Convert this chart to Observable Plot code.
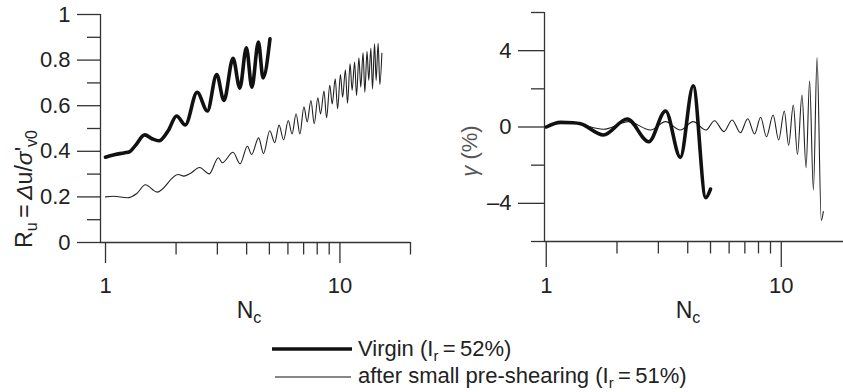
<!DOCTYPE html>
<html><head><meta charset="utf-8">
<script src="https://cdn.jsdelivr.net/npm/d3@7"></script>
<script src="https://cdn.jsdelivr.net/npm/@observablehq/plot@0.6"></script>
<style>
body{margin:0;background:#fff;overflow:hidden;}
#wrap{position:relative;width:843px;height:392px;}
#wrap svg{position:absolute;top:0;}
</style></head><body><div id="wrap"></div>
<script>
// ---------- data ----------
const ruVirginN = [1.00, 1.10, 1.20, 1.27, 1.34, 1.47, 1.58, 1.69, 1.85, 2.01, 2.19, 2.46, 2.72, 2.98, 3.20, 3.50, 3.74, 3.99, 4.21, 4.49, 4.70, 5.03];
const ruVirgin  = [0.374, 0.386, 0.393, 0.399, 0.425, 0.472, 0.455, 0.446, 0.490, 0.555, 0.516, 0.659, 0.577, 0.737, 0.623, 0.808, 0.677, 0.854, 0.681, 0.879, 0.722, 0.893];

const ruPreN = [1.00, 1.08, 1.24, 1.36, 1.48, 1.66, 2.04, 2.16, 2.30, 2.52, 2.77, 3.03, 3.15, 3.50, 3.75, 4.03, 4.20, 4.50, 4.72, 5.02, 5.27, 5.50, 5.75, 6.02, 6.25, 6.50, 6.75, 7.02, 7.25, 7.52, 7.77, 8.05, 8.27, 8.55, 8.77, 9.05, 9.27, 9.55, 9.77, 10.05, 10.27, 10.55, 10.77, 11.05, 11.27, 11.55, 11.77, 12.05, 12.27, 12.55, 12.77, 13.05, 13.27, 13.55, 13.77, 14.05, 14.27, 14.55, 14.80, 15.10];
const ruPre  = [0.200, 0.203, 0.196, 0.215, 0.253, 0.221, 0.298, 0.291, 0.303, 0.329, 0.301, 0.372, 0.350, 0.396, 0.345, 0.422, 0.386, 0.459, 0.390, 0.490, 0.438, 0.515, 0.450, 0.535, 0.476, 0.565, 0.476, 0.595, 0.529, 0.623, 0.521, 0.635, 0.564, 0.664, 0.547, 0.689, 0.608, 0.718, 0.586, 0.737, 0.637, 0.757, 0.611, 0.784, 0.667, 0.791, 0.645, 0.810, 0.681, 0.832, 0.659, 0.839, 0.711, 0.852, 0.674, 0.871, 0.711, 0.874, 0.693, 0.830];

const gammaVirginN = [1.00, 1.15, 1.30, 1.40, 1.75, 2.21, 2.73, 3.22, 3.72, 4.22, 4.77, 5.00];
const gammaVirgin  = [0.00, 0.24, 0.22, 0.17, -0.42, 0.42, -0.77, 0.84, -1.59, 2.16, -3.70, -3.25];

const gammaPreN = [1.00, 1.15, 1.30, 1.42, 1.75, 2.24, 2.78, 3.22, 3.72, 4.22, 4.78, 5.20, 5.70, 6.18, 6.70, 7.20, 7.70, 8.17, 8.65, 9.23, 9.75, 10.30, 10.75, 11.25, 11.72, 12.25, 12.75, 13.20, 13.70, 14.20, 14.80, 15.10];
const gammaPre  = [0.00, 0.24, 0.22, 0.12, -0.12, 0.28, -0.16, 0.28, -0.16, 0.28, -0.16, 0.33, -0.24, 0.37, -0.30, 0.43, -0.37, 0.51, -0.51, 0.63, -0.68, 0.84, -0.96, 1.15, -1.44, 1.68, -2.13, 2.42, -3.30, 3.62, -4.89, -4.43];

const xMajorTicks = [1, 10];
const xMinorTicksL = [2, 3, 4, 5, 6, 7, 8, 9, 20];
const xMinorTicksR = [2, 3, 4, 5, 6, 7, 8, 9];
const ruMajorTicks = [0, 0.2, 0.4, 0.6, 0.8, 1];
const ruMinorTicks = [0.1, 0.3, 0.5, 0.7, 0.9];
const gammaMajorTicks = [-4, 0, 4];
const gammaMinorTicks = [-6, -2, 2, 6];

const seriesLabels = ["Virgin", "after small pre-shearing"];
const seriesIr = ["52%", "51%"];

// ---------- helpers ----------
const FONT = '"Liberation Sans", Arial, Helvetica, sans-serif';
const toRows = (ns, vs) => ns.map((n, i) => ({N: n, v: vs[i]}));
const AX = "#333";
const fmt = d => (d < 0 ? "\u2013" : "") + String(Math.abs(d));

const wrap = document.getElementById("wrap");

function panel(o) {
  const svg = Plot.plot({
    width: o.width, height: 330,
    marginLeft: o.ml, marginRight: o.mr, marginTop: o.mt, marginBottom: 330 - o.bottom,
    style: {fontFamily: FONT, fontSize: "22px", color: "#222", background: "transparent", overflow: "visible"},
    x: {type: "log", domain: o.xDomain},
    y: {domain: o.yDomain},
    marks: [
      Plot.axisY(o.yMajor, {tickSize: o.yMajSize, tickPadding: 7, tickFormat: fmt, stroke: AX, strokeWidth: 1.3, label: null}),
      Plot.axisY(o.yMinor, {tickSize: 13, tickFormat: () => "", stroke: AX, strokeWidth: 1.3, label: null}),
      Plot.axisX(xMajorTicks, {tickSize: o.xMajSize, tickPadding: o.xPad, tickFormat: d => String(d), stroke: AX, strokeWidth: 1.3, label: null}),
      Plot.axisX(o.xMinor, {tickSize: 12.5, tickFormat: () => "", stroke: AX, strokeWidth: 1.3, label: null}),
      Plot.ruleX([o.xDomain[0]], {stroke: AX, strokeWidth: 1.3}),
      Plot.ruleY([o.yDomain[0]], {stroke: AX, strokeWidth: 1.3}),
      Plot.line(o.thin, {x: "N", y: "v", curve: "monotone-x", stroke: "#222", strokeWidth: 1.1}),
      Plot.line(o.thick, {x: "N", y: "v", curve: "monotone-x", stroke: "#111", strokeWidth: 3.6})
    ]
  });
  svg.style.left = o.left + "px";
  wrap.appendChild(svg);
  return svg;
}

function nc(svg, x) {
  const t = d3.select(svg).append("text").attr("x", x).attr("y", 318)
    .attr("fill", "#222")
    .style("font-family", FONT).style("font-size", "23px");
  t.append("tspan").text("N");
  t.append("tspan").attr("dy", 5).style("font-size", "16px").text("c");
}

// ---------- left panel ----------
const L = panel({
  left: 0, width: 420, ml: 100, mr: 10, mt: 14, bottom: 242,
  xDomain: [0.952, 20], yDomain: [0, 1],
  yMajor: ruMajorTicks, yMinor: ruMinorTicks, yMajSize: 23,
  xMinor: xMinorTicksL, xMajSize: 21, xPad: 14,
  thin: toRows(ruPreN, ruPre), thick: toRows(ruVirginN, ruVirgin)
});
nc(L, 249);
{
  const t = d3.select(L).append("text").attr("transform", "translate(32,189) rotate(-90)")
    .attr("fill", "#222")
    .style("font-family", FONT).style("font-size", "23px");
  t.append("tspan").text("R");
  t.append("tspan").attr("dy", 5).style("font-size", "16px").text("u");
  t.append("tspan").attr("dy", -5).text("\u2009=\u2009");
  t.append("tspan").style("font-style", "italic").text("Δ");
  t.append("tspan").text("u/");
  t.append("tspan").style("font-style", "italic").text("σ");
  t.append("tspan").text("'");
  t.append("tspan").attr("dy", 5).style("font-size", "16px").text("v0");
}

// ---------- right panel ----------
const R = panel({
  left: 420, width: 423, ml: 124, mr: 0, mt: 12, bottom: 241,
  xDomain: [0.983, 18.4], yDomain: [-6, 6],
  yMajor: gammaMajorTicks, yMinor: gammaMinorTicks, yMajSize: 26,
  xMinor: xMinorTicksR, xMajSize: 26, xPad: 10,
  thin: toRows(gammaPreN, gammaPre), thick: toRows(gammaVirginN, gammaVirgin)
});
nc(R, 268);
{
  const t = d3.select(R).append("text").attr("transform", "translate(57,151) rotate(-90)")
    .attr("fill", "#555")
    .style("font-family", FONT).style("font-size", "22px");
  t.append("tspan").style("font-style", "italic").text("γ");
  t.append("tspan").text(" (%)");
}

// ---------- legend ----------
const lg = d3.select(wrap).append("svg").attr("width", 843).attr("height", 392)
  .style("left", "0px").style("pointer-events", "none");
const items = [
  {y: 349, base: 356, w: 3.6, x1: 272, x2: 352},
  {y: 377, base: 383, w: 1.2, x1: 275, x2: 351}
];
items.forEach((it, i) => {
  lg.append("line").attr("x1", it.x1).attr("x2", it.x2).attr("y1", it.y).attr("y2", it.y)
    .attr("stroke", "#111").attr("stroke-width", it.w);
  const t = lg.append("text").attr("x", 358).attr("y", it.base).attr("fill", "#222")
    .style("font-family", FONT).style("font-size", "22px");
  t.append("tspan").text(seriesLabels[i] + " (I");
  t.append("tspan").attr("dy", 5).style("font-size", "15px").text("r");
  t.append("tspan").attr("dy", -5).text("\u2009=\u2009" + seriesIr[i] + ")");
});
</script></body></html>
